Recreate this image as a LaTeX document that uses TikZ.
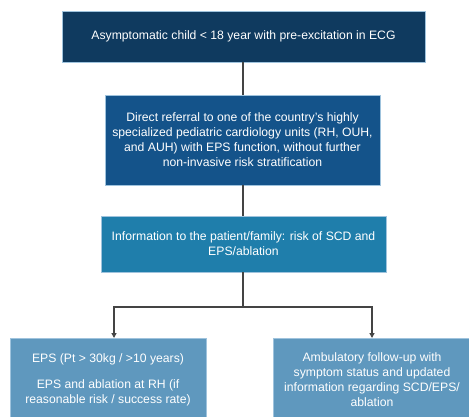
\documentclass[tikz,border=0pt]{standalone}
\usepackage{fontspec}
\setmainfont{Liberation Sans}
\usetikzlibrary{arrows.meta}
\definecolor{cA}{HTML}{0F3A5F}
\definecolor{cB}{HTML}{14538A}
\definecolor{cC}{HTML}{1F7EAB}
\definecolor{cD}{HTML}{5F98BE}
\definecolor{edge}{HTML}{9FC3DD}
\definecolor{wire}{HTML}{444444}
\begin{document}
\begin{tikzpicture}[x=1pt,y=-1pt,
  box/.style={rectangle, draw=edge, line width=0.6pt, inner sep=0pt},
  txt/.style={text=white, align=center, inner sep=0pt, font=\fontsize{12.2}{15}\selectfont},
  wireline/.style={draw=wire, line width=1.2pt},
  arr/.style={wireline, -{Triangle[length=5pt,width=5pt]}}]
\useasboundingbox (0,0) rectangle (469,416);
\clip (0,0) rectangle (469,416);
\node[box, fill=cA, minimum width=363pt, minimum height=51pt] (b1) at (243.5,36.5) {};
\node[txt] (t1) at (b1.center) {Asymptomatic child < 18 year with pre-excitation in ECG};
\node[box, fill=cB, minimum width=275pt, minimum height=90pt] (b2) at (242.5,140) {};
\node[txt] (t2) at (b2.center) {Direct referral to one of the country's highly\\specialized pediatric cardiology units (RH, OUH,\\and AUH) with EPS function, without further\\non-invasive risk stratification};
\node[box, fill=cC, minimum width=285pt, minimum height=56pt] (b3) at (243.5,244) {};
\node[txt] (t3) at (b3.center) {Information to the patient/family: risk of SCD and\\EPS/ablation};
\node[box, fill=cD, minimum width=196pt, minimum height=100pt, anchor=north west] (b4) at (10,338) {};
\node[box, fill=cD, minimum width=200pt, minimum height=100pt, anchor=north west] (b5) at (273,338) {};
\node[txt] (t4a) at (108,359) {EPS (Pt > 30kg / >10 years)};
\node[txt] (t4b) at (108,392.5) {EPS and ablation at RH (if\\reasonable risk / success rate)};
\node[txt] (t5) at (372,379.5) {Ambulatory follow-up with\\symptom status and updated\\information regarding SCD/EPS/\\ablation};
\coordinate (j) at (243,307);
\coordinate (jl) at (114,307);
\coordinate (jr) at (372,307);
\draw[wireline] (b1.south -| j) -- (b2.north -| j);
\draw[wireline] (b2.south -| j) -- (b3.north -| j);
\draw[wireline] (b3.south -| j) -- (j);
\draw[arr] (j) -- (jl) -- (jl |- b4.north);
\draw[arr] (j) -- (jr) -- (jr |- b5.north);
\end{tikzpicture}
\end{document}
